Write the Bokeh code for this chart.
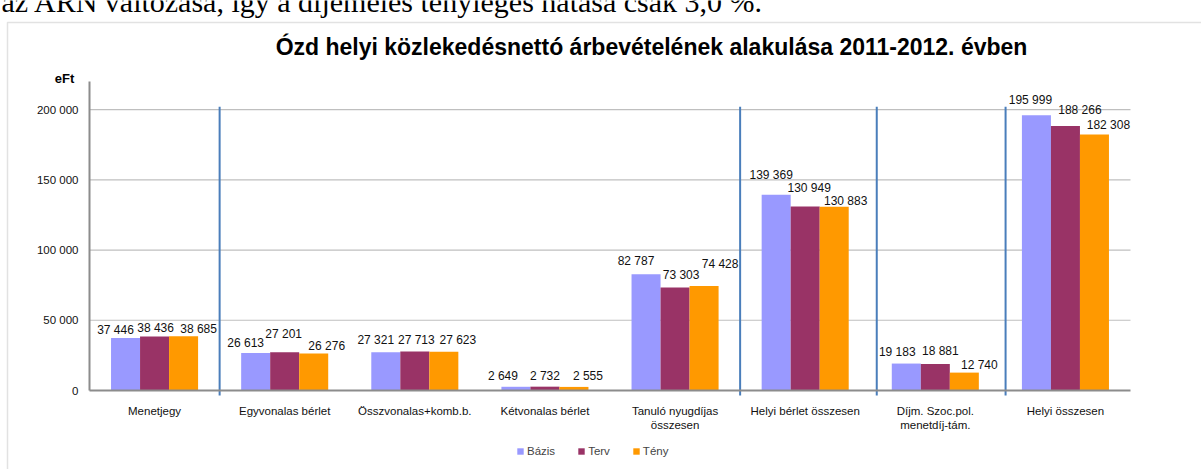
from bokeh.plotting import figure
from bokeh.models import (ColumnDataSource, Range1d, Label, Legend, LegendItem, FixedTicker,
                          BoxAnnotation)
from bokeh.embed import file_html
from bokeh.resources import INLINE
from bokeh.core.properties import value

# ---------------- data ----------------
categories = ["Menetjegy", "Egyvonalas bérlet", "Összvonalas+komb.b.", "Kétvonalas bérlet",
              "Tanuló nyugdíjas\nösszesen", "Helyi bérlet összesen",
              "Díjm. Szoc.pol.\nmenetdíj-tám.", "Helyi összesen"]
series_names = ["Bázis", "Terv", "Tény"]
bazis = [37446, 26613, 27321, 2649, 82787, 139369, 19183, 195999]
terv = [38436, 27201, 27713, 2732, 73303, 130949, 18881, 188266]
teny = [38685, 26276, 27623, 2555, 74428, 130883, 12740, 182308]
y_ticks = [0, 50000, 100000, 150000, 200000]
y_tick_labels = ["0", "50 000", "100 000", "150 000", "200 000"]
y_max = 220000
title_text = "Ózd helyi közlekedésnettó árbevételének alakulása 2011-2012. évben"
unit_text = "eFt"
above_text = "az ARN változása, így a díjemelés tényleges hatása csak 3,0 %."
# group separator lines (between category groups, in category slots)
separators = [1.0, 5.0, 6.05, 7.04]

# ---------------- styles / layout ----------------
colors = ["#9999FF", "#993366", "#FF9900"]
FONT = "Liberation Sans"
bar_w = 0.223
shifts = [-bar_w, 0.0, bar_w]
# label nudges (px): horizontal shift, and gap above bar top
label_dx = [[-10, -10, -10, -13, -10, -5, -9, -6],
            [1, -1, 1.5, 0, 6, 4, 5, 14.5],
            [15, 13, 14, 14, 16, 11.5, 15, 14]]
label_dy = [[8, 10, 12, 11, 13, 20, 12, 15],
            [9, 18, 12, 11, 13, 19, 12.6, 16],
            [7, 8, 12, 11, 22, 6, 8, 9]]

W, H = 1201, 469
PL, PR, PT, PB = 89, 1130, 81, 390      # plot area (axes) on the canvas, px
n = len(categories)
ux = (PR - PL) / n                      # px per category slot
uy = (PB - PT) / y_max                  # px per unit value

def xd(px):
    return (px - PL) / ux

def yd(py):
    return (PB - py) / uy

centers = [i + 0.5 for i in range(n)]

p = figure(x_range=Range1d(xd(0), xd(W)), y_range=Range1d(yd(H), yd(0)),
           width=W, height=H, output_backend="svg", toolbar_location=None,
           min_border=0, min_border_left=0, min_border_right=0, min_border_top=0,
           min_border_bottom=0)
p.outline_line_color = None
p.background_fill_color = "white"
p.border_fill_color = "white"
p.xgrid.visible = False
p.ygrid.visible = False

# chart box (left and top edges visible; the rest runs off the page)
p.add_layout(BoxAnnotation(left=xd(7), top=yd(22), right=xd(W + 50), bottom=yd(H + 50),
                           fill_alpha=0, line_color="#a0a0a0", line_width=1.5))

# horizontal gridlines from the tick values
grid_vals = [t for t in y_ticks if t > 0]
p.segment(x0=[0] * len(grid_vals), y0=grid_vals, x1=[n] * len(grid_vals), y1=grid_vals,
          line_color="#bfbfbf", line_width=1.2)

# axes, fixed at the plot-area edges
p.yaxis.fixed_location = 0
p.yaxis.bounds = (0, y_max)
p.yaxis.ticker = FixedTicker(ticks=y_ticks)
p.yaxis.major_label_overrides = dict(zip(y_ticks, y_tick_labels))
p.xaxis.fixed_location = 0
p.xaxis.bounds = (0, n)
p.xaxis.ticker = FixedTicker(ticks=centers)
p.xaxis.major_label_overrides = dict(zip(centers, categories))
for ax in (p.xaxis[0], p.yaxis[0]):
    ax.axis_line_color = "#8c8c8c"
    ax.axis_line_width = 2
    ax.major_tick_line_color = None
    ax.major_tick_out = 0
    ax.major_tick_in = 0
    ax.minor_tick_line_color = None
    ax.minor_tick_out = 0
    ax.minor_tick_in = 0
    ax.major_label_text_font = FONT
    ax.major_label_text_font_size = "11.5px"
    ax.major_label_text_color = "#111111"
p.yaxis.major_label_standoff = 11
p.xaxis.major_label_standoff = 14
p.xaxis.major_label_orientation = "horizontal"

cols = ["bazis", "terv", "teny"]
src = ColumnDataSource(dict(bazis=bazis, terv=terv, teny=teny,
                            **{f"x_{c}": [x + shifts[i] for x in centers] for i, c in enumerate(cols)}))
renderers = []
for i, c in enumerate(cols):
    r = p.vbar(x=f"x_{c}", top=c, width=bar_w, source=src,
               fill_color=colors[i], line_color=None)
    renderers.append(r)

# data labels
for i, (c, vals) in enumerate(zip(cols, [bazis, terv, teny])):
    lsrc = ColumnDataSource(dict(x=[x + shifts[i] for x in centers], v=vals,
                                 txt=[f"{v:,}".replace(",", " ") for v in vals],
                                 dx=label_dx[i], dy=[-d for d in label_dy[i]]))
    p.text(x="x", y="v", text="txt", source=lsrc,
           x_offset="dx", y_offset="dy", text_align="center", text_baseline="middle",
           text_font=value(FONT), text_font_size="12px", text_color="#111111")

# separators
p.segment(x0=separators, y0=[yd(PB + 5)] * len(separators), x1=separators,
          y1=[202000] * len(separators), line_color="#4a7ebb", line_width=2)

# legend
legend = Legend(items=[LegendItem(label=s, renderers=[r]) for s, r in zip(series_names, renderers)],
                orientation="horizontal", location=(516, H - 457), padding=0, margin=0,
                spacing=22, label_standoff=3, glyph_width=8, glyph_height=8,
                label_height=12, label_text_font=FONT, label_text_font_size="11.5px",
                border_line_color=None, background_fill_alpha=0)
p.add_layout(legend, "center")

# title, unit, text above the box
p.add_layout(Label(x=xd(651), y=yd(46), text=title_text,
                   text_align="center", text_baseline="middle", text_font=FONT,
                   text_font_style="bold", text_font_size="23px", text_color="black"))
p.add_layout(Label(x=xd(64), y=yd(78), text=unit_text,
                   text_align="center", text_baseline="middle", text_font=FONT,
                   text_font_style="bold", text_font_size="13px", text_color="black"))
p.add_layout(Label(x=xd(1), y=yd(1), text=above_text,
                   text_align="left", text_baseline="alphabetic", text_font="Liberation Serif",
                   text_font_size="30px", text_color="black"))

open("out.html", "w").write(file_html(p, INLINE))
